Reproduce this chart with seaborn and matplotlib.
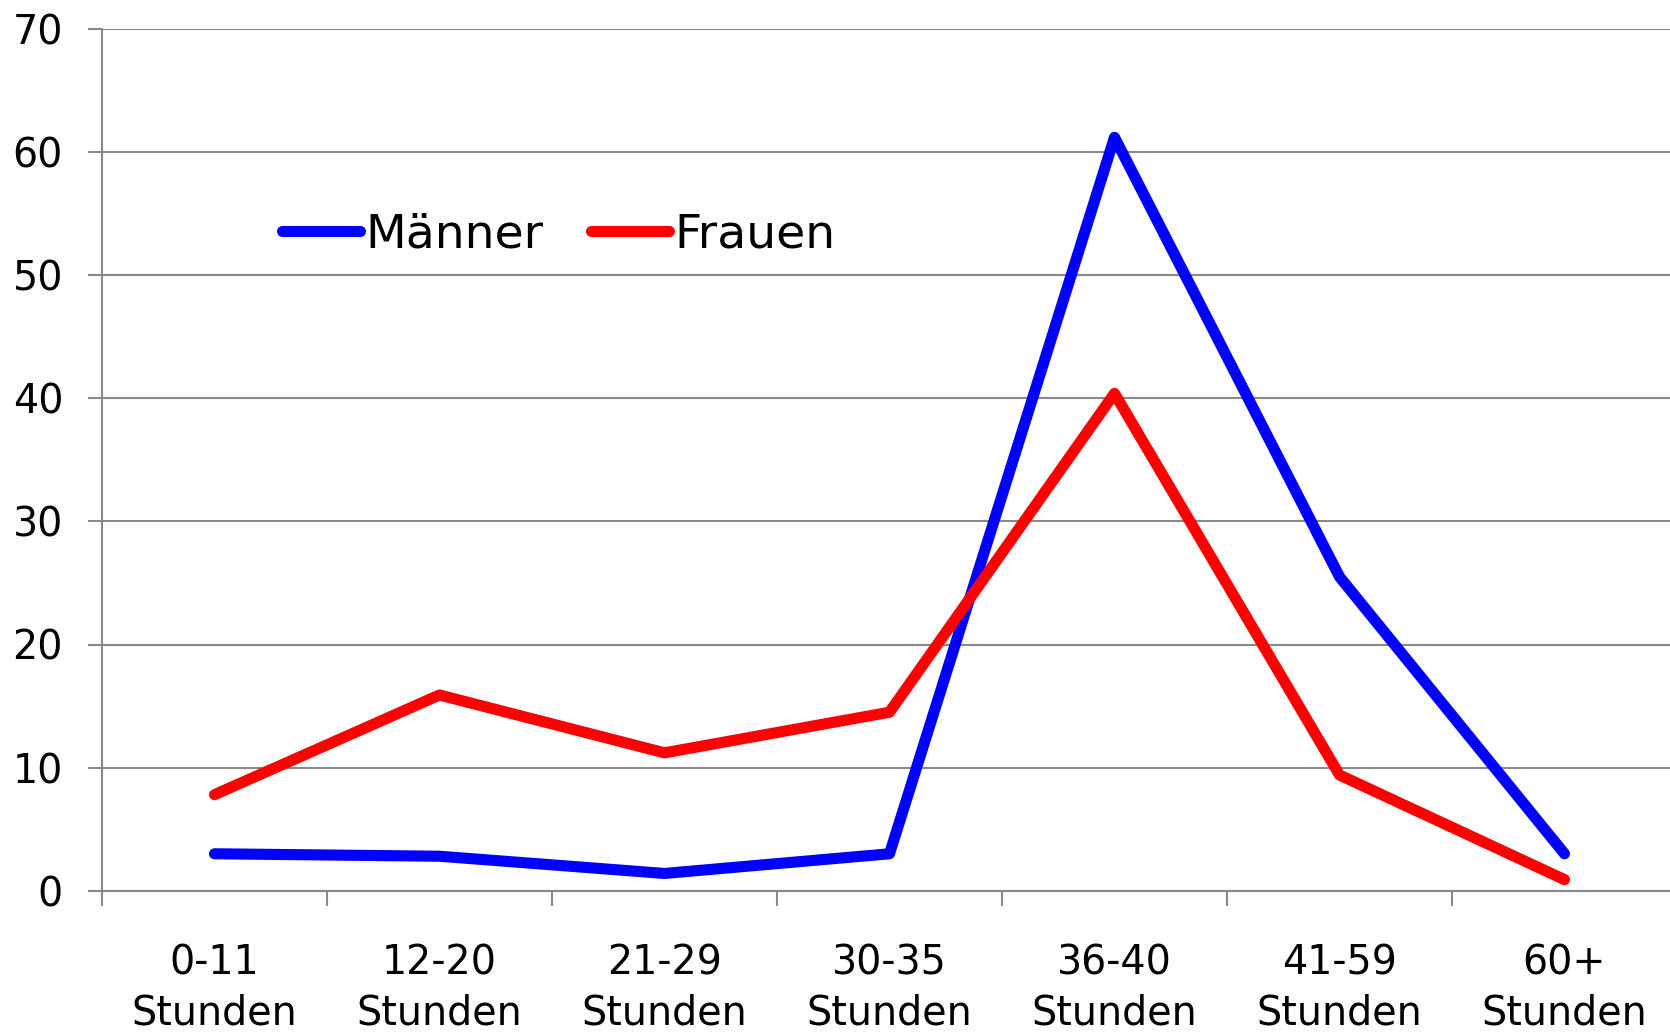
import matplotlib
matplotlib.use("Agg")
import matplotlib.pyplot as plt
import seaborn as sns
import pandas as pd
import numpy as np
from matplotlib.lines import Line2D

categories = ["0-11\nStunden", "12-20\nStunden", "21-29\nStunden", "30-35\nStunden",
              "36-40\nStunden", "41-59\nStunden", "60+\nStunden"]
maenner = [3.0, 2.8, 1.4, 3.0, 61.2, 25.5, 3.0]
frauen = [7.8, 15.9, 11.2, 14.5, 40.4, 9.4, 0.9]
series_names = ["Männer", "Frauen"]
colors = ["#0000FF", "#FF0000"]
y_ticks = [0, 10, 20, 30, 40, 50, 60, 70]

sns.set_theme(style="white")
plt.rcParams['font.family'] = ['DejaVu Sans']

W, H = 1670, 1033
fig = plt.figure(figsize=(W / 100, H / 100), dpi=100)
left, right, bottom, top = 102 / W, 1677 / W, 1 - 890.7 / H, 1 - 29 / H
ax = fig.add_axes([left, bottom, right - left, top - bottom])

pos = list(range(len(categories)))
df = pd.DataFrame({
    "pos": pos * 2,
    "value": maenner + frauen,
    "series": [series_names[0]] * len(pos) + [series_names[1]] * len(pos),
})

lw = 8.0
sns.lineplot(data=df, x="pos", y="value", hue="series", palette=colors,
             hue_order=series_names, linewidth=lw, sort=False, ax=ax,
             legend=False, solid_capstyle="round", solid_joinstyle="round")

gray = "#898989"
ax.set_xlim(-0.5, len(categories) - 0.5)
ax.set_ylim(0, 70)
ax.set_yticks(y_ticks)
ax.set_yticklabels([str(v) for v in y_ticks])
ax.yaxis.grid(True, color=gray, linewidth=1.5)
ax.xaxis.grid(False)
ax.set_axisbelow(True)

# major x ticks at category boundaries (no labels), minor ticks at centers carry labels
ax.set_xticks(np.arange(-0.5, len(categories) - 0.5, 1.0))
ax.set_xticklabels([])
ax.set_xticks(pos, minor=True)
ax.set_xticklabels(categories, minor=True, fontsize=28.5, color="black", linespacing=1.32)
ax.tick_params(axis="x", which="major", length=11, width=1.5, color=gray, direction="out", bottom=True)
ax.tick_params(axis="x", which="minor", length=0, pad=38)
ax.tick_params(axis="y", length=10, width=1.5, color=gray, direction="out", left=True,
               pad=18, labelsize=28.5, labelcolor="black")

for s in ["top", "right"]:
    ax.spines[s].set_visible(False)
for s in ["left", "bottom"]:
    ax.spines[s].set_color(gray)
    ax.spines[s].set_linewidth(1.5)
ax.set_xlabel("")
ax.set_ylabel("")

handles = [Line2D([], [], color=c, linewidth=lw, solid_capstyle="round") for c in colors]
ax.legend(handles, series_names, loc="center left",
          bbox_to_anchor=(282 / W, 1 - 235 / H), bbox_transform=fig.transFigure,
          ncol=2, frameon=False, fontsize=34, handlelength=1.65, handletextpad=0.12,
          columnspacing=1.0, borderpad=0, borderaxespad=0, labelcolor="black")

fig.savefig("out.png", dpi=100)
